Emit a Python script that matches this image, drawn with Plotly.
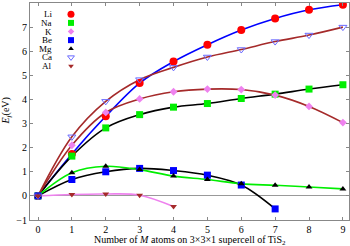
import plotly.graph_objects as go

x_all = [0, 1, 2, 3, 4, 5, 6, 7, 8, 9]

li = [0, 1.74, 3.3, 4.68, 5.57, 6.27, 6.88, 7.36, 7.72, 7.93]
na = [0, 1.65, 2.82, 3.37, 3.68, 3.83, 4.04, 4.22, 4.43, 4.61]
k_ = [0, 2.1, 3.46, 4.02, 4.32, 4.43, 4.41, 4.18, 3.71, 3.04]
be_x = [0, 1, 2, 3, 4, 5, 6, 7]
be = [0, 0.68, 1.0, 1.14, 1.05, 0.86, 0.45, -0.54]
mg = [0, 0.96, 1.23, 1.09, 0.82, 0.68, 0.5, 0.44, 0.37, 0.29]
ca = [0, 2.45, 3.92, 4.82, 5.33, 5.76, 6.07, 6.4, 6.67, 7.0]
al_x = [0, 1, 2, 3, 4]
al = [0, 0.06, 0.08, 0.03, -0.44]

names = ["Li", "Na", "K", "Be", "Mg", "Ca", "Al"]
y_ticks = [-1, 0, 1, 2, 3, 4, 5, 6, 7, 8]

series = [
    # name, x, y, line color, marker symbol, marker color, size, open
    ("Li", x_all, li, "#0000ff", "circle", "#ff0000", 8, False),
    ("Na", x_all, na, "#000000", "square", "#00ee00", 7, False),
    ("K", x_all, k_, "#a52a2a", "diamond", "#ee82ee", 6, False),
    ("Be", be_x, be, "#000000", "square", "#0000ff", 7, False),
    ("Mg", x_all, mg, "#00ee00", "triangle-up", "#000000", 6, False),
    ("Ca", x_all, ca, "#a52a2a", "triangle-down-open", "#6a6aff", 7, True),
    ("Al", al_x, al, "#ee82ee", "triangle-down", "#a52a2a", 6, False),
]

FONT = "Liberation Serif"
fig = go.Figure()

for nm, xs, ys, lc, sym, mc, sz, op in series:
    fig.add_trace(go.Scatter(x=xs, y=ys, mode="lines",
                             line=dict(color=lc, width=1.6, shape="spline", smoothing=1.0),
                             showlegend=False, hoverinfo="skip"))
for nm, xs, ys, lc, sym, mc, sz, op in series:
    fig.add_trace(go.Scatter(x=xs, y=ys, mode="markers", name=nm,
                             marker=dict(symbol=sym, color=mc, size=sz,
                                         line=dict(width=1 if op else 0, color=mc)),
                             showlegend=False))

# manual legend (symbols to the right of labels), on an overlay axis spanning the plot
leg_y0 = 0.948
leg_dy = 0.0397
for i, (nm, xs, ys, lc, sym, mc, sz, op) in enumerate(series):
    yy = leg_y0 - i * leg_dy
    fig.add_trace(go.Scatter(x=[0.1285], y=[yy], mode="markers", xaxis="x2", yaxis="y2",
                             marker=dict(symbol=sym, color=mc, size=sz - 1,
                                         line=dict(width=1 if op else 0, color=mc)),
                             showlegend=False, hoverinfo="skip"))
    fig.add_annotation(x=0.0755, y=yy, xref="paper", yref="paper", text=nm,
                       showarrow=False, xanchor="right", yanchor="middle",
                       font=dict(family=FONT, size=9, color="#000"))

# axis titles
fig.add_annotation(x=0.5, y=0, xref="paper", yref="paper", yshift=-20,
                   text="Number of <i>M</i> atoms on 3×3×1 supercell of TiS<sub>2</sub>",
                   showarrow=False, xanchor="center", yanchor="middle",
                   font=dict(family=FONT, size=10, color="#000"))
fig.add_annotation(x=0, y=0.5, xref="paper", yref="paper", xshift=-24,
                   text="<i>E</i><sub><i>f</i></sub>(eV)", textangle=-90,
                   showarrow=False, xanchor="center", yanchor="middle",
                   font=dict(family=FONT, size=10, color="#000"))

axis_common = dict(showgrid=False, ticks="inside", ticklen=3, tickcolor="#888",
                   showline=True, linecolor="#888", linewidth=1, mirror="ticks",
                   automargin=False,
                   tickfont=dict(family=FONT, size=10, color="#000"))

fig.update_layout(
    width=350, height=246,
    margin=dict(l=30, r=1, t=3, b=26),
    paper_bgcolor="white", plot_bgcolor="white",
    xaxis=dict(range=[-0.236, 9.18], tickvals=x_all, zeroline=False, **axis_common),
    yaxis=dict(range=[-1, 8], tickvals=y_ticks, zeroline=True,
               zerolinecolor="#999", zerolinewidth=1, **axis_common),
    xaxis2=dict(range=[0, 1], overlaying="x", visible=False, fixedrange=True),
    yaxis2=dict(range=[0, 1], overlaying="y", visible=False, fixedrange=True),
    showlegend=False,
)

fig.write_html("out.html", config={"displayModeBar": False},
               post_script="document.body.style.margin='0';document.body.style.overflow='hidden';")
